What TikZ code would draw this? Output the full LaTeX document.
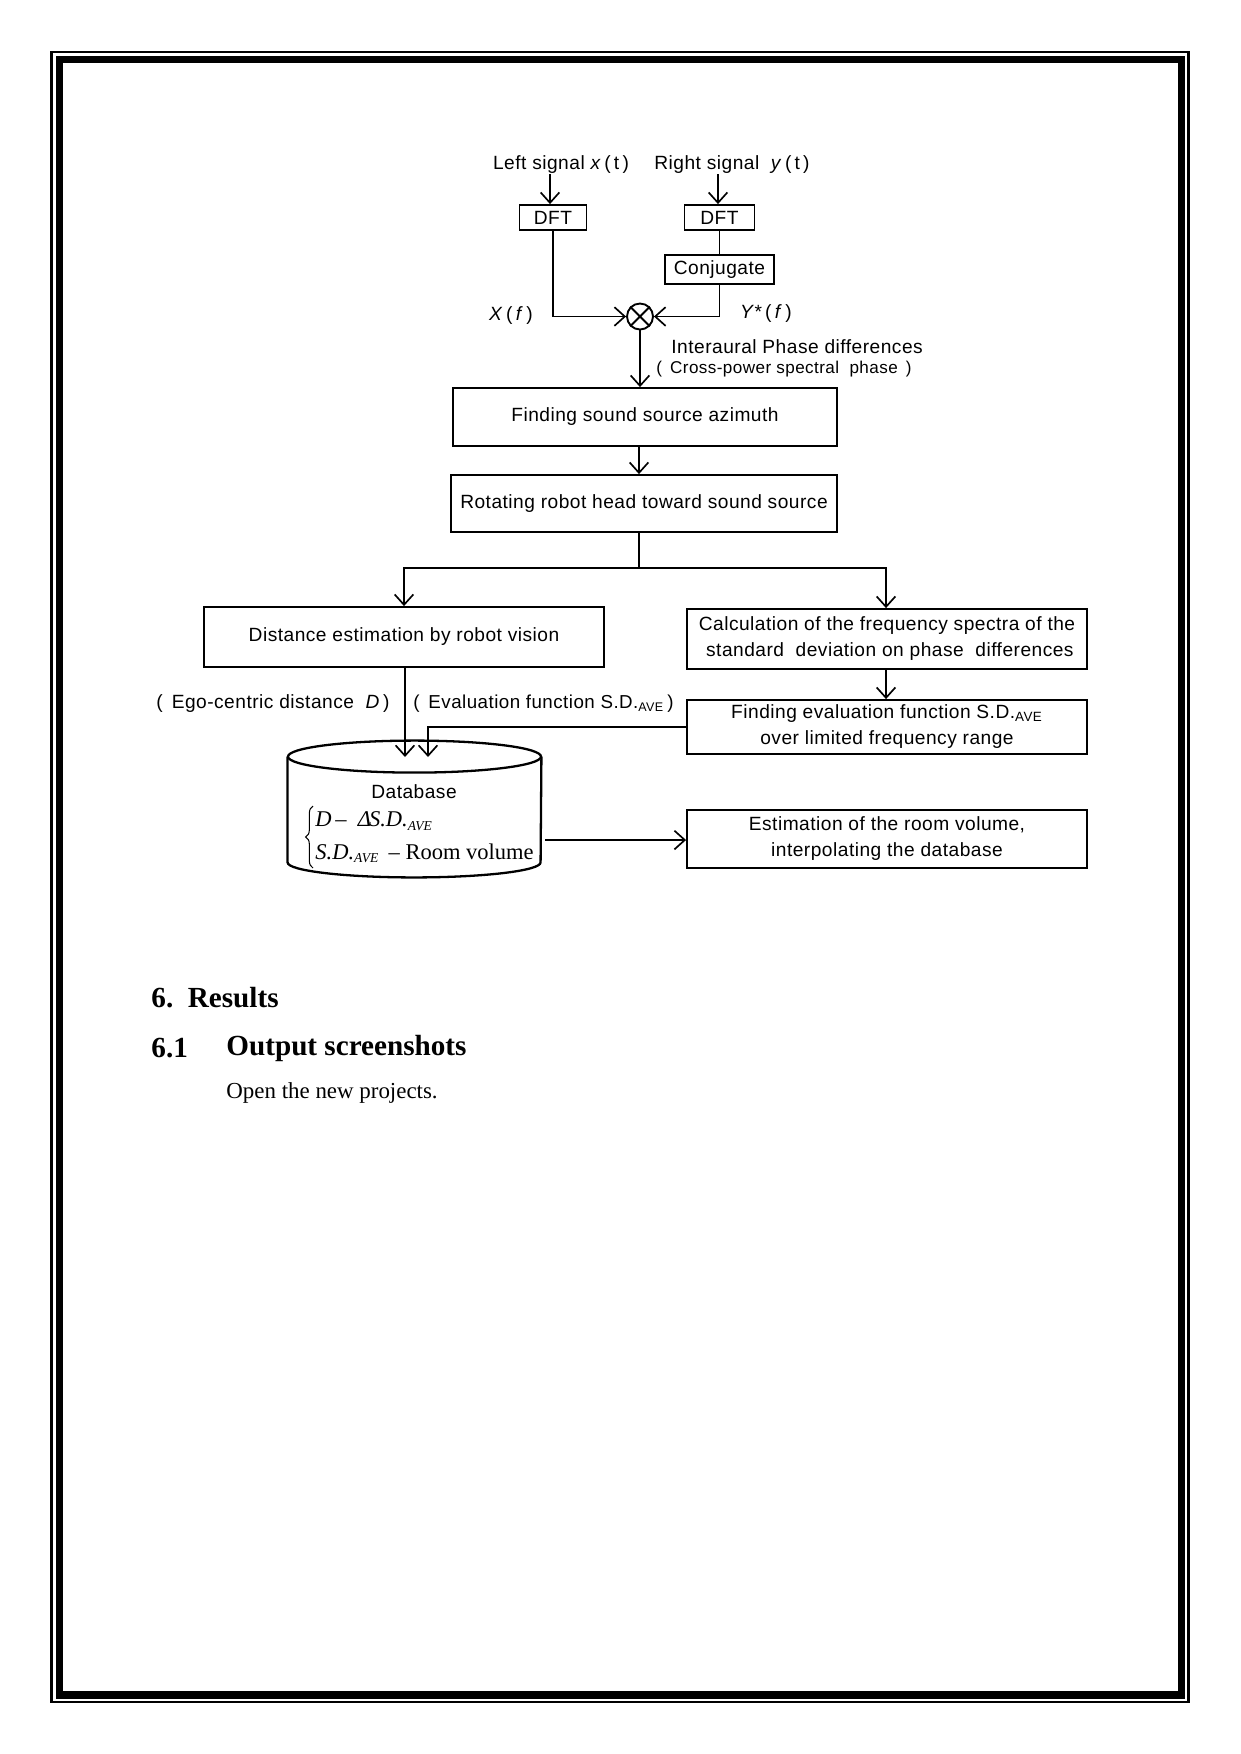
\documentclass[tikz,border=0pt]{standalone}
\usepackage{fontspec}
\setmainfont{Liberation Serif}
\newfontfamily\dsans[LetterSpace=2.5]{Liberation Sans}
\usetikzlibrary{arrows.meta,decorations.pathreplacing}
\def\u{0.48pt}
\tikzset{
  every picture/.style={line join=miter},
  box/.style={draw, line width=0.9pt, inner sep=0pt, align=center, font=\dsans\fontsize{9.2}{12.5}\selectfont},
  lbl/.style={inner sep=0pt, font=\dsans\fontsize{9.2}{12}\selectfont},
  slbl/.style={inner sep=0pt, font=\dsans\fontsize{8.2}{10}\selectfont},
  conn/.style={line width=0.9pt},
  arr/.style={conn, -{Straight Barb[length=5pt,width=9pt,line width=0.8pt]}},
  ser/.style={inner sep=0pt, font=\fontsize{10.8}{12}\selectfont},
}
\begin{document}
\begin{tikzpicture}[x=\u,y=-\u]
\useasboundingbox (0,0) rectangle (1241,1754);
% page border
\draw[line width=1.2pt] (51.5,52) rectangle (1188.5,1702);
\draw[line width=3.4pt] (59.5,59.5) rectangle (1181.5,1695);

% signals
\node[lbl] (lsig) at (561,165) {Left signal \textit{x}\,(\,t\,)};
\node[lbl] (rsig) at (732,165) {Right signal \ \textit{y}\,(\,t\,)};
\node[box, minimum width=67*\u, minimum height=25*\u] (dftL) at (553,217.5) {DFT};
\node[box, minimum width=70*\u, minimum height=25*\u] (dftR) at (719.5,217.5) {DFT};
\node[box, minimum width=109*\u, minimum height=29*\u] (conj) at (719.5,269.5) {Conjugate};
\node[draw, circle, line width=0.9pt, minimum size=26*\u, inner sep=0pt] (mult) at (640,316.5) {};
\draw[conn] (mult.north west) -- (mult.south east) (mult.north east) -- (mult.south west);
\node[lbl] (xf) at (511,316) {\textit{X}\,(\,\textit{f}\,)};
\node[lbl] (yf) at (766,314) {\textit{Y}*\,(\,\textit{f}\,)};

\draw[arr] (lsig.south -| dftL) ++(-3,0) coordinate (la) -- (la |- dftL.north);
\draw[arr] (rsig.south -| dftR) ++(-1.5,0) coordinate (ra) -- (ra |- dftR.north);
\draw[conn] (dftR.south) -- (conj.north);
\draw[arr] (dftL.south) |- (mult.west);
\draw[arr] (conj.south) |- (mult.east);

\node[lbl, anchor=west] (ipd) at (671,347) {Interaural Phase differences};
\node[slbl, anchor=west] (cps) at (656,369) {(\, Cross-power spectral \ phase \,)};

% main chain
\node[box, minimum width=384*\u, minimum height=58*\u] (find) at (645,417) {Finding sound source azimuth};
\node[box, minimum width=386*\u, minimum height=57*\u] (rot) at (644,503.5) {Rotating robot head toward sound source};
\draw[arr] (mult.south) -- (mult.south |- find.north);
\draw[arr] (find.south -| mult) ++(-1,0) coordinate (fb) -- (fb |- rot.north);

\node[box, minimum width=400*\u, minimum height=60*\u] (dist) at (404,637) {Distance estimation by robot vision};
\node[box, minimum width=400*\u, minimum height=60*\u] (calc) at (887,639) {Calculation of the frequency spectra of the\\ \ standard \ deviation on phase \ differences};
\node[box, minimum width=400*\u, minimum height=54*\u] (eval) at (887,727) {Finding evaluation function S.D.\textsubscript{AVE}\\over limited frequency range};
\node[box, minimum width=400*\u, minimum height=58*\u] (est) at (887,839) {Estimation of the room volume,\\interpolating the database};

\coordinate (split) at (639,568);
\draw[conn] (rot.south -| split) -- (split);
\draw[arr] (split) -| (dist.north);
\draw[arr] (split) -| (calc.north -| 886,0);
\draw[arr] (calc.south -| 886,0) -- (eval.north -| 886,0);

% database cylinder
\node[minimum width=253*\u, minimum height=105*\u, inner sep=0pt] (db) at (414.5,809.5) {};
\draw[line width=1.1pt] (db.north) ellipse [x radius=126.5*\u, y radius=16*\u];
\draw[line width=1.1pt] (db.north west) -- (db.south west) arc [start angle=180, end angle=360, x radius=126.5*\u, y radius=15*\u] -- (db.north east);
\node[lbl] (dbt) at (414,792) {Database};
\node[ser, anchor=west] (dbl1) at (315,821) {\textit{D}\,–\ \ \textit{Δ}\kern-1pt\textit{S.D.}\textsubscript{\fontsize{6.5}{7}\selectfont\itshape AVE}};
\node[ser, anchor=west] (dbl2) at (315,853) {\textit{S.D.}\textsubscript{\fontsize{6.5}{7}\selectfont\itshape AVE}\, – Room volume};
\draw[line width=0.5pt, decorate, decoration={brace, amplitude=3.5pt}] (313,868) -- (313,806);

% connectors into database
\draw[arr] (dist.south -| 405,0) -- (405,757);
\coordinate (ecorner) at (428,727);
\draw[arr] (eval.west) -- (ecorner) -- (428,757);
\node[lbl] (ego) at (273,704) {(\, Ego-centric distance \ \textit{D}\,)};
\node[lbl, anchor=west, font=\dsans\fontsize{9}{12}\selectfont] (evl) at (413,704) {(\, Evaluation function S.D.\textsubscript{AVE}\,)};
\draw[arr] (545,840) -- (est.west |- 0,840);

% text
\node[anchor=west, inner sep=0pt, font=\fontsize{14}{16}\selectfont\bfseries] (h1) at (151,998) {6.\ \ Results};
\node[anchor=west, inner sep=0pt, font=\fontsize{14}{16}\selectfont\bfseries] (h2n) at (151,1048) {6.1};
\node[anchor=west, inner sep=0pt, font=\fontsize{14}{16}\selectfont\bfseries] (h2) at (226,1048) {Output screenshots};
\node[anchor=west, inner sep=0pt, font=\fontsize{11}{13}\selectfont] (p1) at (226,1093) {Open the new projects.};
\end{tikzpicture}
\end{document}
